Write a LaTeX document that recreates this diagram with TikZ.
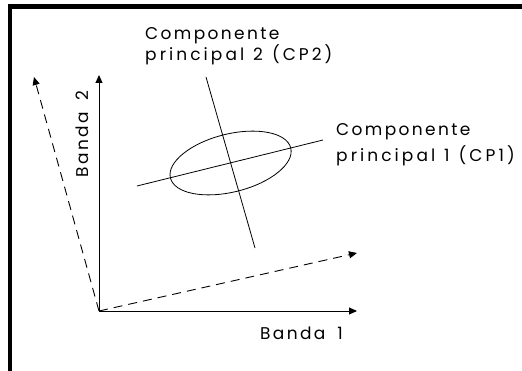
\documentclass[tikz,border=0pt]{standalone}
\usepackage{fontspec}
\usetikzlibrary{arrows.meta,shapes.geometric}
\newfontfamily\cadfont[LetterSpace=14]{Poppins}
\newcommand{\wsp}{\hspace{9pt}}
\newcommand{\wideline}[1]{{\addfontfeature{LetterSpace=18}#1}}
\begin{document}
\begin{tikzpicture}[x=1pt,y=-1pt,
  axisline/.style={line width=0.9pt,-{Triangle[length=8pt,width=7pt]}},
  dashline/.style={line width=0.9pt,dash pattern=on 9pt off 6pt,-{Triangle[length=8pt,width=7pt]}},
  thinline/.style={line width=0.8pt},
  lbl/.style={inner sep=0pt,font=\cadfont\fontsize{17}{21}\selectfont}]
\useasboundingbox (0,0) rectangle (522,371);
\fill (8,4) rectangle (522,9);
\fill (8,4) rectangle (12,371);
\coordinate (O) at (99,311);
\coordinate (B1) at (357,311);
\coordinate (B2) at (99,75);
\coordinate (D1) at (357,253);
\coordinate (D2) at (34,77);
\draw[axisline] (O) -- (B1);
\draw[axisline] (O) -- (B2);
\draw[dashline] (O) -- (D1);
\draw[dashline] (O) -- (D2);
\node[draw,thinline,ellipse,inner sep=0pt,minimum width=124pt,minimum height=58pt,rotate=14] (E) at (230.6,163) {};
\coordinate (P1a) at (137,186);
\coordinate (P1b) at (323,140);
\coordinate (P2a) at (206,77);
\coordinate (P2b) at (255,248);
\draw[thinline] (P1a) -- (P1b);
\draw[thinline] (P2a) -- (P2b);
\node[lbl,align=left,anchor=base west] (cp2) at (145,61) {Componente\\\wideline{principal\wsp 2\wsp (CP2)}};
\node[lbl,align=left,anchor=base west,font=\cadfont\fontsize{17}{26}\selectfont] (cp1) at (336,162) {Componente\\\wideline{principal\wsp 1\wsp (CP1)}};
\node[lbl,anchor=base] (b1) at (301.5,339) {Banda\hspace{12pt}1};
\node[lbl,anchor=base,rotate=90] (b2) at (88,134) {Banda\hspace{12pt}2};
\end{tikzpicture}
\end{document}
